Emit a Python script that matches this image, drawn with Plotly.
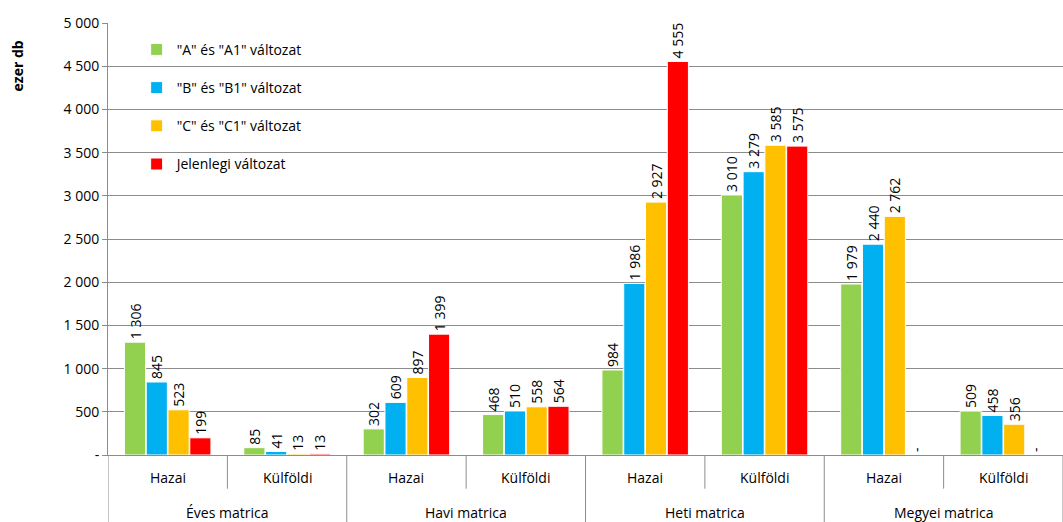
import plotly.graph_objects as go

main_cats = ["Éves matrica", "Havi matrica", "Heti matrica", "Megyei matrica"]
sub_cats = ["Hazai", "Külföldi"]

series_names = ['"A" és "A1" változat', '"B" és "B1" változat',
                '"C" és "C1" változat', 'Jelenlegi változat']
series_a = [1306, 85, 302, 468, 984, 3010, 1979, 509]
series_b = [845, 41, 609, 510, 1986, 3279, 2440, 458]
series_c = [523, 13, 897, 558, 2927, 3585, 2762, 356]
series_d = [199, 13, 1399, 564, 4555, 3575, 0, 0]
colors = ["#92D050", "#00B0F0", "#FFC000", "#FF0000"]

y_tickvals = [0, 500, 1000, 1500, 2000, 2500, 3000, 3500, 4000, 4500, 5000]


def fmt(v):
    if v == 0:
        return "-"
    return f"{v:,}".replace(",", " ")


keys = [f"{m}|{s}" for m in main_cats for s in sub_cats]

FONT = "Open Sans"
FS = 14
AX = "#8C8C8C"
fig = go.Figure()
for i, (name, vals) in enumerate(zip(series_names, [series_a, series_b, series_c, series_d])):
    fig.add_trace(go.Bar(
        x=keys, y=vals, name=name,
        marker=dict(color=colors[i], line=dict(color="white", width=1)),
        text=[fmt(v) for v in vals], textposition="outside", textangle=-90,
        textfont=dict(size=FS, color="black", family=FONT),
        cliponaxis=False, legendgroup=str(i),
    ))

fig.update_layout(
    width=1063, height=522,
    margin=dict(l=108, r=0, t=23, b=67),
    paper_bgcolor="white", plot_bgcolor="white",
    barmode="group", bargap=0.27, bargroupgap=0.03,
    uniformtext=dict(minsize=FS, mode="show"),
    font=dict(family=FONT, size=FS, color="black"),
    legend=dict(x=0.03, y=0.975, xanchor="left", yanchor="top",
                bgcolor="rgba(0,0,0,0)", tracegroupgap=17,
                font=dict(size=FS, family=FONT)),
    showlegend=True,
)
fig.update_yaxes(range=[0, 5000], tickvals=y_tickvals,
                 ticktext=[fmt(v) for v in y_tickvals],
                 showgrid=True, gridcolor=AX, gridwidth=1,
                 showline=True, linecolor=AX, ticks="outside",
                 ticklen=5, tickcolor=AX, zeroline=False,
                 tickfont=dict(size=FS))
fig.update_xaxes(showline=True, linecolor=AX, showticklabels=False,
                 ticks="", range=[-0.5, len(keys) - 0.5])

# category axis: sub labels, main labels and dividers
n_sub = len(sub_cats)
for j, k in enumerate(keys):
    fig.add_annotation(text=sub_cats[j % n_sub], x=j, xref="x", y=-0.053,
                       yref="paper", showarrow=False, yanchor="middle",
                       font=dict(size=FS, family=FONT))
for m_i, m in enumerate(main_cats):
    center = m_i * n_sub + (n_sub - 1) / 2
    fig.add_annotation(text=m, x=center, xref="x", y=-0.132, yref="paper",
                       showarrow=False, yanchor="middle",
                       font=dict(size=FS, family=FONT))
for j in range(len(keys) + 1):
    is_main = j % n_sub == 0
    fig.add_shape(type="line", xref="x", yref="paper", x0=j - 0.5, x1=j - 0.5,
                  y0=0, y1=-0.155 if is_main else -0.078,
                  line=dict(color=AX, width=1))

fig.add_annotation(text="<b>ezer db</b>", xref="paper", yref="paper",
                   x=-0.095, y=0.90, textangle=-90, showarrow=False,
                   font=dict(size=FS, family=FONT), xanchor="center", yanchor="middle")

fig.write_html("out.html")
